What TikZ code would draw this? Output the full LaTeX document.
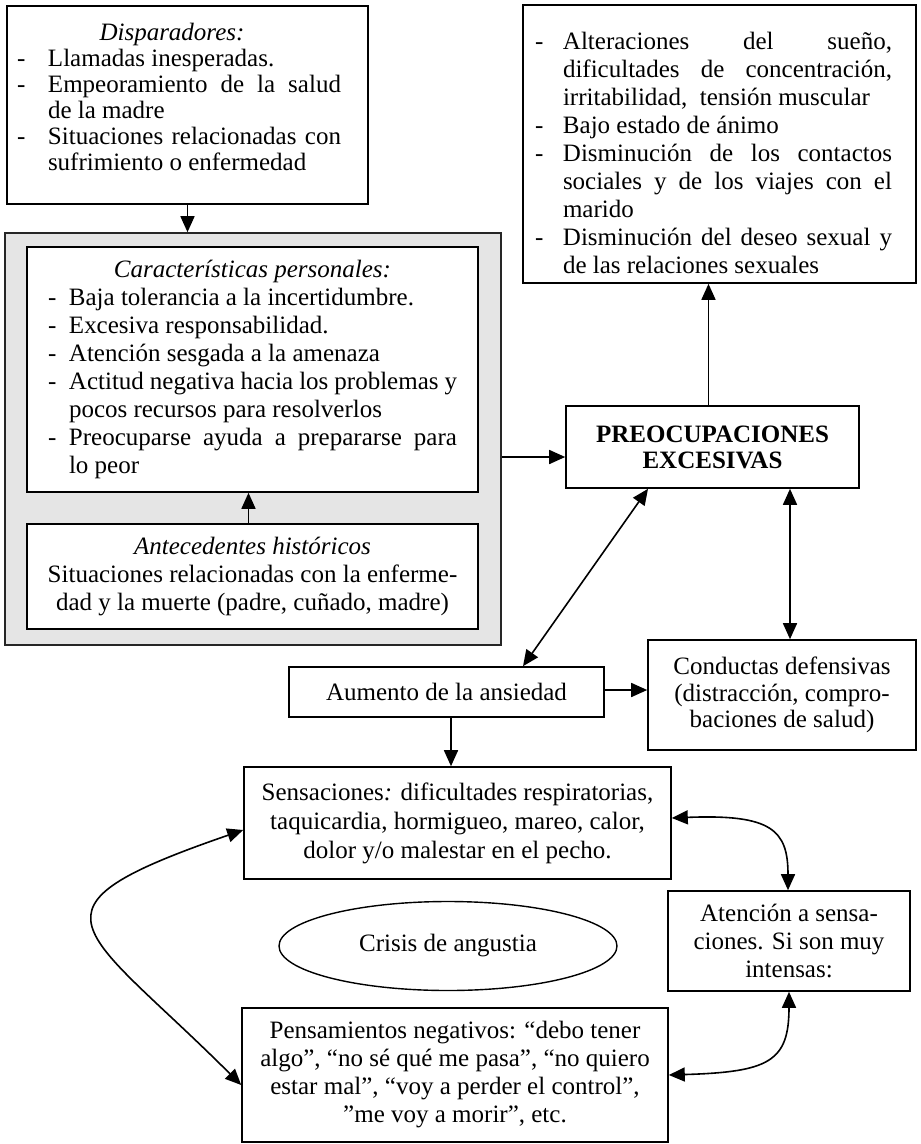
\documentclass[tikz,border=0pt]{standalone}
\usepackage{fontspec}
\setmainfont{Liberation Serif}
\usetikzlibrary{arrows.meta,shapes.geometric}
\newcommand\jset{\parindent=0pt\tolerance=10000\hyphenpenalty=10000\leftskip=0pt\rightskip=0pt\parfillskip=0pt plus 1fil\relax}
\newcommand\myitem[2]{\par\hangindent=#1\hangafter=1\noindent\makebox[#1][l]{-}#2\par}
\tikzset{
  base/.style={font=\fontsize{25}{28}\selectfont},
  box/.style={base, draw=black, line width=1.6pt, fill=white, inner sep=0pt, align=center},
  grpbox/.style={draw=black!85, line width=1.6pt, fill=gray!20, inner sep=0pt},
  tip/.tip={Triangle[length=16pt,width=14pt]},
  arr/.style={line width=1.6pt, -tip},
  darr/.style={line width=1.6pt, tip-tip},
  crisisshape/.style={base, draw=black, line width=1.4pt, ellipse, inner sep=0pt},
}
\begin{document}
\begin{tikzpicture}[x=1pt,y=-1pt]
\useasboundingbox (0,0) rectangle (921,1144);
% group frame
\node[grpbox, minimum width=496pt, minimum height=412pt] (grp) at (253,439) {};
% Disparadores
\node[box, minimum width=361pt, minimum height=198pt] (disp) at (187.5,105) {};
\node[base, font=\fontsize{25}{26}\selectfont, text width=324pt, align=justify, inner sep=0pt] (dispt) at (179,97) {\jset
{\centering\hspace*{-14pt}\textit{Disparadores:}\par}
\myitem{31pt}{Llamadas inesperadas.}
\myitem{31pt}{Empeoramiento de la salud\linebreak de la madre}
\myitem{31pt}{Situaciones relacionadas con\linebreak sufrimiento o enfermedad}};
% Caracteristicas
\node[box, minimum width=451pt, minimum height=245pt, text width=409pt, align=justify] (car) at (252.5,369.5) {\jset
{\centering\textit{Características personales:}\par}
\myitem{21pt}{Baja tolerancia a la incertidumbre.}
\myitem{21pt}{Excesiva responsabilidad.}
\myitem{21pt}{Atención sesgada a la amenaza}
\myitem{21pt}{Actitud negativa hacia los problemas y\linebreak pocos recursos para resolverlos}
\myitem{21pt}{Preocuparse ayuda a prepararse para\linebreak lo peor}};
% Antecedentes
\node[box, minimum width=451pt, minimum height=105pt] (ant) at (252.5,576.5) {\textit{Antecedentes históricos}\\Situaciones relacionadas con la enferme-\\dad y la muerte (padre, cuñado, madre)};
% right top box
\node[box, minimum width=393pt, minimum height=278pt] (rb) at (719.5,144) {};
\node[base, text width=357pt, align=justify, inner sep=0pt] (rbt) at (713.5,148) {\jset
\myitem{28pt}{Alteraciones del sueño,\linebreak dificultades de concentración,\linebreak irritabilidad, \ tensión muscular}
\myitem{28pt}{Bajo estado de ánimo}
\myitem{28pt}{Disminución de los contactos\linebreak sociales y de los viajes con el\linebreak marido}
\myitem{28pt}{Disminución del deseo sexual y\linebreak de las relaciones sexuales}};
% Preocupaciones
\node[box, font=\fontsize{25}{26}\selectfont\bfseries, minimum width=293pt, minimum height=82pt] (preoc) at (712.5,447) {PREOCUPACIONES\\EXCESIVAS};
% Aumento
\node[box, minimum width=315pt, minimum height=50pt] (aum) at (446.5,692) {Aumento de la ansiedad};
% Conductas
\node[box, font=\fontsize{25}{26.5}\selectfont, minimum width=268pt, minimum height=110pt] (cond) at (782,695) {Conductas defensivas\\(distracción, compro-\\baciones de salud)};
% Sensaciones
\node[box, font=\fontsize{25}{29}\selectfont, minimum width=427pt, minimum height=112pt] (sens) at (457.5,823) {Sensaciones\textit{:} dificultades respiratorias,\\taquicardia, hormigueo, mareo, calor,\\dolor y/o malestar en el pecho.};
% Atencion
\node[box, minimum width=242pt, minimum height=100pt] (att) at (789,941) {Atención a sensa-\\ciones. Si son muy\\intensas:};
% Crisis
\node[crisisshape, minimum width=338pt, minimum height=89pt] (crisis) at (448,946) {Crisis de angustia};
% Pensamientos
\node[box, minimum width=426pt, minimum height=134pt] (pens) at (455,1075) {Pensamientos negativos: “debo tener\\algo”, “no sé qué me pasa”, “no quiero\\estar mal”, “voy a perder el control”,\\”me voy a morir”, etc.};
% connectors
\draw[arr] (disp.south) -- (disp.south |- grp.north);
\draw[arr] ([xshift=-4pt]ant.north) -- ([xshift=-4pt]car.south);
\coordinate (pw) at ([yshift=-10pt]preoc.west);
\draw[arr] (grp.east |- pw) -- (pw);
\draw[arr] ([xshift=-4pt]preoc.north) -- ([xshift=-4pt]preoc.north |- rb.south);
\draw[darr] ([xshift=76.5pt]aum.north) -- ([xshift=-64.5pt]preoc.south);
\draw[darr] ([xshift=77.5pt]preoc.south) -- ([xshift=77.5pt]preoc.south |- cond.north);
\coordinate (ae) at ([yshift=2pt]aum.east);
\draw[arr] (ae) -- (ae -| cond.west);
\draw[arr] ([xshift=4.5pt]aum.south) -- ([xshift=4.5pt]aum.south |- sens.north);
\draw[darr] ([yshift=5pt]sens.east) .. controls +(100,-4) and +(0,-60) .. ([xshift=-1pt]att.north);
\draw[darr] (att.south) .. controls +(0,70) and +(100,-3) .. (pens.east);
\draw[darr] ([yshift=-7pt]sens.west) .. controls +(-232,80) and +(-160,-160) .. ([yshift=-10pt]pens.west);
\end{tikzpicture}
\end{document}
